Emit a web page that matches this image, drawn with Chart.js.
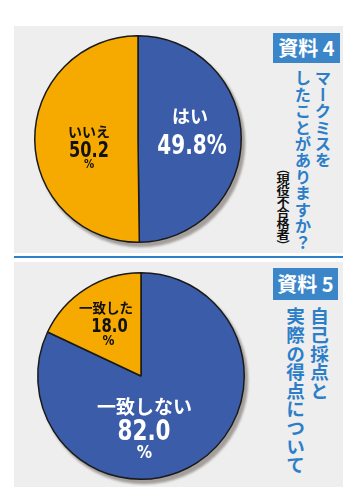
<!DOCTYPE html>
<html lang="ja">
<head>
<meta charset="utf-8">
<script src="https://cdn.jsdelivr.net/npm/chart.js@4/dist/chart.umd.min.js"></script>
<style>
  html, body { margin:0; padding:0; background:#fff; }
  body { width:360px; height:499px; position:relative; overflow:hidden; font-family:'Noto Sans CJK JP', sans-serif; }
  .panel { position:absolute; left:14px; width:329px; background:#eeeeee; }
  .rule { position:absolute; left:14px; top:256px; width:329px; height:2px; background:#2d80ca; }
  .box { position:absolute; background:#3b86c8; color:#fff; font-weight:bold; font-size:20px; line-height:30px; text-align:center; }
  .vt { position:absolute; writing-mode:vertical-rl; font-weight:bold; color:#2d7ec8; white-space:nowrap; }
  .sub { position:absolute; writing-mode:vertical-rl; text-orientation:upright; font-weight:bold; color:#111; white-space:nowrap; font-size:11px; line-height:13px; font-family:'Noto Sans CJK JP', sans-serif; transform:scaleX(1.2); transform-origin:center top; }
  canvas { position:absolute; }
</style>
</head>
<body>
<div class="panel" style="top:26px;height:227px;"></div>
<div class="rule"></div>
<div class="panel" style="top:262px;height:225px;"></div>

<canvas id="c1" width="220" height="220" style="left:28px;top:29px;"></canvas>
<canvas id="c2" width="220" height="220" style="left:31px;top:266px;"></canvas>

<div class="box" style="left:273px;top:33px;width:67px;height:30px;">資料 4</div>
<div class="vt" style="left:293px;top:70px;font-size:16.4px;line-height:20px;">マークミスを<br>したことがありますか？</div>
<div class="sub" style="left:276px;top:163px;">（現役不合格者）</div>

<div class="box" style="left:273px;top:268px;width:65px;height:32px;line-height:32px;">資料 5</div>
<div class="vt" style="left:283px;top:307px;font-size:18.6px;line-height:24px;">自己採点と<br>実際の得点について</div>

<script>
// ---- data ----
const categories1 = ['はい', 'いいえ'];
const values1 = [49.8, 50.2];
const categories2 = ['一致しない', '一致した'];
const values2 = [82.0, 18.0];
const sliceColors = ['#3b5ca9', '#f6aa00'];

const JP = "'Noto Sans CJK JP', sans-serif";
const NUM = "'DejaVu Sans', sans-serif";

const shadowPlugin = {
  id: 'pieShadow',
  beforeDatasetsDraw(chart) {
    const a = chart.getDatasetMeta(0).data[0];
    const ctx = chart.ctx;
    ctx.save();
    ctx.fillStyle = 'rgba(150,144,140,0.85)';
    ctx.filter = 'blur(1px)';
    ctx.beginPath();
    ctx.arc(a.x + 3, a.y + 4, a.outerRadius + 1, 0, Math.PI * 2);
    ctx.fill();
    ctx.restore();
  }
};

const labelPlugin = {
  id: 'sliceLabels',
  afterDatasetsDraw(chart, args, opts) {
    const a = chart.getDatasetMeta(0).data[0];
    const ctx = chart.ctx;
    (opts.items || []).forEach(it => {
      ctx.save();
      ctx.font = it.font;
      ctx.fillStyle = it.color;
      ctx.textAlign = 'center';
      ctx.textBaseline = it.base || 'middle';
      ctx.translate(a.x + it.dx, a.y + it.dy);
      ctx.scale(it.sx || 1, 1);
      ctx.fillText(it.text, 0, 0);
      ctx.restore();
    });
  }
};

function makePie(id, cats, vals, items) {
  return new Chart(document.getElementById(id), {
    type: 'pie',
    data: {
      labels: cats,
      datasets: [{
        data: vals,
        backgroundColor: sliceColors,
        borderColor: '#1a1a1a',
        borderWidth: 1.5
      }]
    },
    options: {
      responsive: false,
      animation: false,
      devicePixelRatio: 1,
      layout: { padding: 6 },
      plugins: {
        legend: { display: false },
        tooltip: { enabled: false },
        sliceLabels: { items }
      }
    },
    plugins: [shadowPlugin, labelPlugin]
  });
}

makePie('c1', categories1, values1, [
  { text: categories1[0], font: `bold 18px ${JP}`, color: '#fff', dx: 52, dy: -23 },
  { text: values1[0].toFixed(1) + '%', font: `bold 26px ${NUM}`, color: '#fff', dx: 54, dy: 15, base: 'alphabetic', sx: 0.77 },
  { text: categories1[1], font: `bold 14px ${JP}`, color: '#111', dx: -49, dy: -7 },
  { text: values1[1].toFixed(1), font: `bold 21px ${NUM}`, color: '#111', dx: -49, dy: 18, base: 'alphabetic', sx: 0.77 },
  { text: '%', font: `bold 12px ${NUM}`, color: '#111', dx: -49, dy: 29, base: 'alphabetic', sx: 0.85 }
]);

makePie('c2', categories2, values2, [
  { text: categories2[1], font: `bold 13.5px ${JP}`, color: '#111', dx: -35, dy: -68 },
  { text: values2[1].toFixed(1), font: `bold 19.5px ${NUM}`, color: '#111', dx: -31.5, dy: -44, base: 'alphabetic', sx: 0.76 },
  { text: '%', font: `bold 14px ${NUM}`, color: '#111', dx: -32.5, dy: -31, base: 'alphabetic', sx: 0.85 },
  { text: categories2[0], font: `bold 19px ${JP}`, color: '#fff', dx: 3.5, dy: 30.5 },
  { text: values2[0].toFixed(1), font: `bold 28px ${NUM}`, color: '#fff', dx: 3, dy: 64, base: 'alphabetic', sx: 0.77 },
  { text: '%', font: `bold 18px ${NUM}`, color: '#fff', dx: 3.5, dy: 82, base: 'alphabetic', sx: 0.85 }
]);
</script>
</body>
</html>
